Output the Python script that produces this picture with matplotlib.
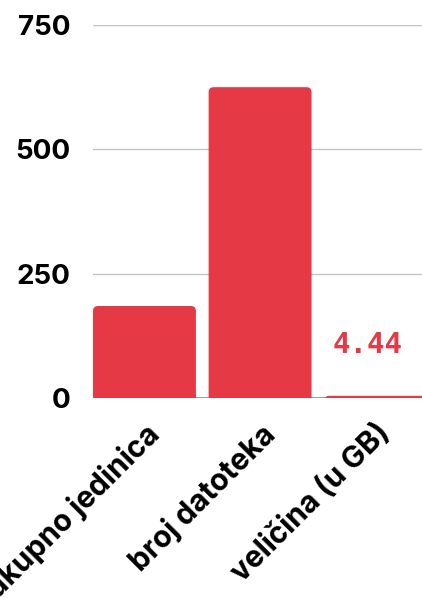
import matplotlib.pyplot as plt
from matplotlib.patches import FancyBboxPatch

categories = ["ukupno jedinica", "broj datoteka", "veličina (u GB)"]
values = [185, 625, 4.44]
yticks = [0, 250, 500, 750]

red = "#E63946"

fig = plt.figure(figsize=(4.22, 5.98), dpi=100)
ax = fig.add_axes([93 / 422, 200 / 598, 1 - 93 / 422, (398 - 25) / 598])

x = list(range(len(categories)))
width = 0.89
bars = ax.bar(x, values, width=width, color=red)

# swap plain bars for ones with rounded tops (bottom part hidden below 0)
ext = 15
for b in bars:
    b.set_visible(False)
    p = FancyBboxPatch((b.get_x(), -ext), b.get_width(), b.get_height() + ext,
                       boxstyle="round,pad=0,rounding_size=0.045",
                       mutation_aspect=220, facecolor=red, edgecolor="none",
                       zorder=3)
    ax.add_patch(p)

ax.set_xlim(-width / 2, 2.40)
ax.set_ylim(0, 750)

ax.set_yticks(yticks)
ax.set_yticklabels([str(t) for t in yticks], fontsize=20, fontweight="bold",
                   family="Inter")
ax.tick_params(axis="y", length=0, pad=16)
ax.tick_params(axis="x", length=0, pad=15)
ax.set_xticks(x)
ax.set_xticklabels(categories, rotation=45, ha="right", rotation_mode="anchor",
                   fontsize=21.5, fontweight="bold", family="Inter")

for t in yticks[1:]:
    ax.axhline(t, color="#c4c4c4", lw=1, zorder=1)
ax.axhline(0, color="#8a8a8a", lw=1.2, zorder=2)

for s in ax.spines.values():
    s.set_visible(False)

# value label on the tiny bar
ax.text(x[2] - 0.07, values[2] + 102, "4.44", color=red, fontsize=21,
        fontweight="bold", family="DejaVu Sans Mono", ha="center", va="center")

fig.savefig("out.png", dpi=100)
